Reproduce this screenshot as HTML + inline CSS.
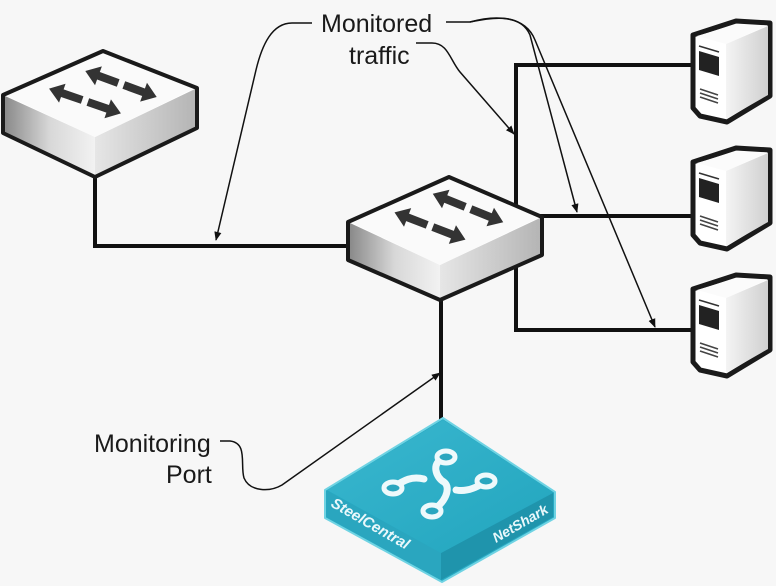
<!DOCTYPE html>
<html><head><meta charset="utf-8"><style>
html,body{margin:0;padding:0;background:#f7f7f7;}
svg{display:block;}
text{font-family:"Liberation Sans",sans-serif;fill:#1a1a1a;}
</style></head><body>
<svg width="776" height="586" viewBox="0 0 776 586" xmlns="http://www.w3.org/2000/svg">
<defs>
<linearGradient id="sideL" x1="0" x2="1" y1="0" y2="0"><stop offset="0" stop-color="#8a8a8a"/><stop offset="0.5" stop-color="#d8d8d8"/><stop offset="1" stop-color="#f2f2f2"/></linearGradient>
<linearGradient id="sideR" x1="0" x2="1" y1="0" y2="0"><stop offset="0" stop-color="#e6e6e6"/><stop offset="1" stop-color="#b5b5b5"/></linearGradient>
<linearGradient id="srvS" x1="0" x2="1"><stop offset="0" stop-color="#f4f4f4"/><stop offset="1" stop-color="#d0d0d0"/></linearGradient>
<linearGradient id="teal" x1="0" y1="0" x2="1" y2="1"><stop offset="0" stop-color="#3ab7cf"/><stop offset="1" stop-color="#22a5be"/></linearGradient>
<marker id="ar" viewBox="0 0 10 10" refX="9" refY="5" markerWidth="9" markerHeight="9" orient="auto" markerUnits="userSpaceOnUse"><path d="M0,1 L10,5 L0,9 Z" fill="#111"/></marker>
<path id="da" d="M-38,0 L-24,-10 L-24,-4 L-3,-4 L-3,4 L-24,4 L-24,10 Z M38,0 L24,-10 L24,-4 L3,-4 L3,4 L24,4 L24,10 Z" fill="#333"/>
</defs>

<g stroke="#111" stroke-width="4" fill="none">
<path d="M95,170 L95,246 L352,246"/>
<path d="M693,65 L516,65 L516,330 L693,330"/>
<path d="M530,216 L695,216"/>
<path d="M441,290 L441,425"/>
</g>

<g stroke-linejoin="round">
<path d="M3,95 L103,51 L197,88 L197,128 L95,177 L3,133 Z" fill="#fff"/>
<path d="M5,96 L95,137 L95,175 L5,132 Z" fill="url(#sideL)"/>
<path d="M95,137 L195,89 L195,127 L95,175 Z" fill="url(#sideR)"/>
<path d="M5,95 L103,53 L195,88 L95,137 Z" fill="#fafafa"/>
<path d="M3,95 L103,51 L197,88 L197,128 L95,177 L3,133 Z" fill="none" stroke="#1a1a1a" stroke-width="4"/>
<use href="#da" transform="translate(85,101) rotate(19)"/>
<use href="#da" transform="translate(121,84) rotate(20)"/>
</g>

<g stroke-linejoin="round">
<path d="M348,222 L449,177 L542,217 L542,255 L440,300 L348,260 Z" fill="#fff"/>
<path d="M350,223 L440,265 L440,298 L350,259 Z" fill="url(#sideL)"/>
<path d="M440,265 L540,218 L540,254 L440,298 Z" fill="url(#sideR)"/>
<path d="M350,222 L449,179 L540,217 L440,265 Z" fill="#fafafa"/>
<path d="M348,222 L449,177 L542,217 L542,255 L440,300 L348,260 Z" fill="none" stroke="#1a1a1a" stroke-width="4"/>
<use href="#da" transform="translate(430,226) rotate(21)"/>
<use href="#da" transform="translate(468,208) rotate(22)"/>
</g>

<g id="srv">
<path d="M693,35 L736,21 L770,23 L770,96 L727,122 L700,116 L693,108 Z" fill="#fff" stroke="#1a1a1a" stroke-width="5" stroke-linejoin="round"/>
<path d="M726,44 L768,26 L768,95 L726,119 Z" fill="url(#srvS)"/>
<path d="M697,36 L737,24 L766,26 L726,44 Z" fill="#fbfbfb"/>
<path d="M699,51 L719,57 L719,76 L699,70 Z" fill="#222"/>
<path d="M699,46 L719,52" stroke="#333" stroke-width="1.5"/>
<g stroke="#444" stroke-width="1.5"><path d="M700,89 L718,95"/><path d="M700,93 L718,99"/><path d="M700,97 L718,103"/></g>
</g>
<use href="#srv" transform="translate(0,127)"/>
<use href="#srv" transform="translate(0,254)"/>

<g stroke-linejoin="round">
<path d="M325,490 L443,418 L555,492 L555,518 L442,582 L325,518 Z" fill="#27a9c2" stroke="#6fd3e3" stroke-width="2"/>
<path d="M327,491 L441,553 L441,580 L327,517 Z" fill="#2aa6bf"/>
<path d="M441,553 L553,493 L553,517 L441,580 Z" fill="#1f94ac"/>
<path d="M327,490 L443,420 L553,492 L441,553 Z" fill="url(#teal)"/>
<g fill="none" stroke="#eef9fb" stroke-width="7" stroke-linecap="round">
<path d="M445,458 C430,462 436,478 444,482 C452,488 444,505 432,510"/>
<path d="M394,487 C404,480 412,476 424,479"/>
<path d="M485,482 C476,488 466,492 456,490"/>
</g>
<g fill="#2aa6bf" stroke="#eef9fb" stroke-width="5">
<ellipse cx="446" cy="457" rx="9" ry="6"/>
<ellipse cx="393" cy="488" rx="9" ry="6"/>
<ellipse cx="486" cy="481" rx="9" ry="6"/>
<ellipse cx="432" cy="511" rx="9" ry="6"/>
</g>
<text transform="translate(330,506) rotate(30)" style="font-size:15px;font-weight:bold;fill:#e9f8fb;font-style:italic;">SteelCentral</text>
<text transform="translate(496,543) rotate(-30)" style="font-size:14px;font-weight:bold;fill:#e9f8fb;font-style:italic;">NetShark</text>
</g>

<g fill="none" stroke="#111" stroke-width="1.5">
<path d="M312,23 L292,23 C272,23 262,45 256,70 L216,240" marker-end="url(#ar)"/>
<path d="M446,22 L470,22 C490,18 520,12 530,35 L577,212" marker-end="url(#ar)"/>
<path d="M470,22 C495,15 525,15 535,40 L655,327" marker-end="url(#ar)"/>
<path d="M416,43 L432,43 C448,43 450,60 460,72 L514,134" marker-end="url(#ar)"/>
<path d="M220,441 L230,441 C248,443 240,465 244,478 C250,492 270,492 282,485 L440,373" marker-end="url(#ar)"/>
</g>

<text x="321" y="32" style="font-size:25px;">Monitored</text>
<text x="349" y="64" style="font-size:25px;">traffic</text>
<text x="94" y="452" style="font-size:25px;">Monitoring</text>
<text x="166" y="483" style="font-size:25px;">Port</text>
</svg>
</body></html>
